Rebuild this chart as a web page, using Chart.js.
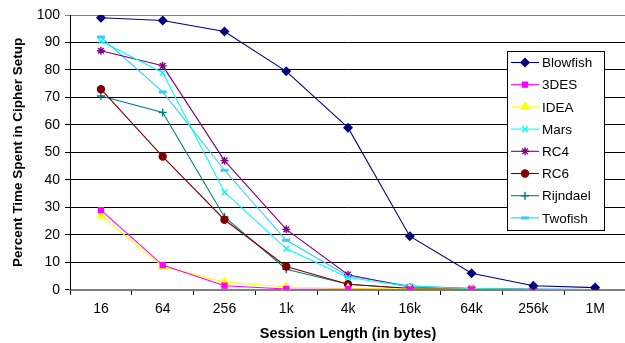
<!DOCTYPE html>
<html>
<head>
<meta charset="utf-8">
<script src="https://cdn.jsdelivr.net/npm/chart.js@4.4.0/dist/chart.umd.min.js"></script>
<style>
  html, body { margin: 0; padding: 0; background: #fff; overflow: hidden; }
  #wrap { width: 633px; height: 343px; }
</style>
</head>
<body>
<div id="wrap"><canvas id="c"></canvas></div>
<script>
// session lengths on the x axis
const categories = ['16', '64', '256', '1k', '4k', '16k', '64k', '256k', '1M'];
const yTicks = [0, 10, 20, 30, 40, 50, 60, 70, 80, 90, 100];

// percent of time spent in cipher setup
const blowfish = [99, 98, 94, 79.5, 59, 19.5, 6, 1.5, 0.8];
const tripleDes = [29, 9, 1.5, 0.3, 0.2, 0.1, 0.1, 0, 0];
const idea = [27, 8.5, 2.8, 1, 0.5, 0.3, 0.2, 0.1, 0];
const mars = [90.5, 79, 35.5, 15, 4.5, 1.2, 0.5, 0.2, 0.1];
const rc4 = [87, 81.5, 47, 22, 5.5, 1, 0.5, 0.2, 0.1];
const rc6 = [73, 48.5, 25.5, 8.5, 2, 0.5, 0.2, 0.1, 0];
const rijndael = [70.5, 64.5, 26.5, 7.5, 2, 0.5, 0.2, 0.1, 0];
const twofish = [92, 72, 43.5, 18, 5, 1.5, 0.5, 0.2, 0.1];

const FONT = '"Liberation Sans", Arial, sans-serif';

function series(label, data, color, style, radius) {
    return {
        label: label,
        data: data,
        borderColor: color,
        backgroundColor: color,
        borderWidth: 1.1,
        pointStyle: style,
        pointRadius: radius,
        pointBorderWidth: style === 'line' ? 3 : 1.4,
        tension: 0
    };
}

const datasets = [
    series('Blowfish', blowfish, '#000080', 'rectRot', 4),
    series('3DES', tripleDes, '#FF00FF', 'rect', 3.5),
    series('IDEA', idea, '#FFFF00', 'triangle', 4.5),
    series('Mars', mars, '#00FFFF', 'crossRot', 4),
    series('RC4', rc4, '#800080', 'star', 4),
    series('RC6', rc6, '#800000', 'circle', 3.5),
    series('Rijndael', rijndael, '#008080', 'cross', 4),
    series('Twofish', twofish, '#33CCFF', 'line', 4)
];

// legend box drawn on the canvas, line + marker like the original
const boxLegend = {
    id: 'boxLegend',
    afterDraw(chart) {
        const ctx = chart.ctx;
        const x0 = 507, y0 = 51, w = 97, h = 179, step = 22.2;
        ctx.save();
        ctx.fillStyle = '#fff';
        ctx.fillRect(x0, y0, w, h);
        ctx.strokeStyle = '#000';
        ctx.lineWidth = 1;
        ctx.strokeRect(x0 + 0.5, y0 + 0.5, w, h);
        ctx.font = '13.5px ' + FONT;
        ctx.textBaseline = 'middle';
        chart.data.datasets.forEach((ds, i) => {
            const y = y0 + 11.5 + i * step;
            ctx.strokeStyle = ds.borderColor;
            ctx.lineWidth = 1.1;
            ctx.beginPath();
            ctx.moveTo(x0 + 4, y);
            ctx.lineTo(x0 + 32, y);
            ctx.stroke();
            ctx.fillStyle = ds.backgroundColor;
            ctx.lineWidth = ds.pointBorderWidth;
            Chart.helpers.drawPoint(ctx, {
                pointStyle: ds.pointStyle,
                radius: ds.pointRadius,
                rotation: 0,
                borderWidth: ds.pointBorderWidth
            }, x0 + 18, y);
            ctx.fillStyle = '#000';
            ctx.fillText(ds.label, x0 + 35, y + 1);
        });
        ctx.restore();
    }
};

new Chart(document.getElementById('c'), {
    type: 'line',
    data: { labels: categories, datasets: datasets },
    plugins: [boxLegend],
    options: {
        responsive: true,
        maintainAspectRatio: false,
        animation: false,
        layout: { padding: { top: 15, right: 0, left: 10, bottom: 0 } },
        plugins: {
            legend: { display: false },
            tooltip: { enabled: false }
        },
        scales: {
            x: {
                offset: true,
                grid: {
                    offset: true,
                    drawOnChartArea: false,
                    drawTicks: true,
                    tickLength: 5,
                    color: '#000'
                },
                border: { color: '#808080', width: 2 },
                ticks: {
                    color: '#000',
                    font: { family: FONT, size: 14 },
                    maxRotation: 0,
                    padding: 6
                },
                title: {
                    display: true,
                    text: 'Session Length (in bytes)',
                    color: '#000',
                    font: { family: FONT, size: 14.5, weight: 'bold' },
                    padding: { top: 2, bottom: 0 }
                }
            },
            y: {
                min: 0,
                max: 100,
                afterBuildTicks: axis => { axis.ticks = yTicks.map(v => ({ value: v })); },
                grid: {
                    color: ctx => ctx.tick && ctx.tick.value === 100 ? '#808080' : '#000',
                    tickLength: 5,
                    lineWidth: 1
                },
                border: { color: '#000', width: 1 },
                ticks: {
                    color: '#000',
                    font: { family: FONT, size: 14 },
                    padding: 5
                },
                title: {
                    display: true,
                    text: 'Percent Time Spent in Cipher Setup',
                    color: '#000',
                    font: { family: FONT, size: 13.5, weight: 'bold' },
                    padding: { top: 0, bottom: 5.5 }
                }
            }
        }
    }
});
</script>
</body>
</html>
